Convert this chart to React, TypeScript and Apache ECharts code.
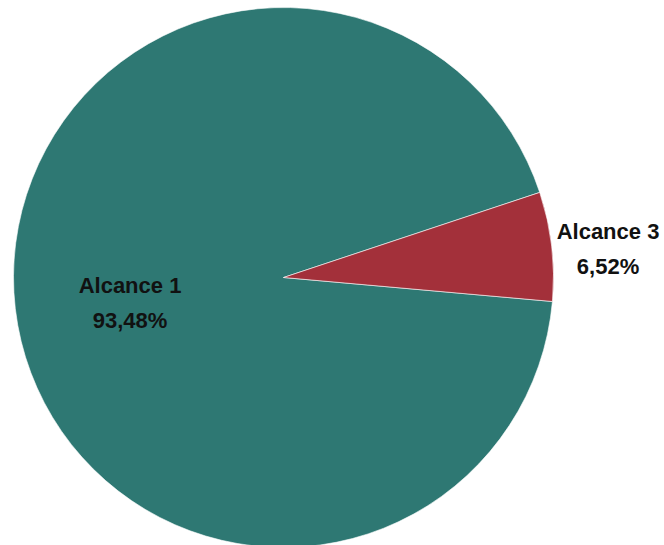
import React, { useEffect, useRef } from "react";
import * as echarts from "echarts";

const categories = ["Alcance 1", "Alcance 3"];
const values = [93.48, 6.52];
const colors = ["#2E7873", "#A3303A"];
const labelSpots = [
  [130, 303],
  [608, 249],
];

export default function App() {
  const ref = useRef<HTMLDivElement>(null);
  useEffect(() => {
    if (!ref.current) return;
    const chart = echarts.init(ref.current, null, { renderer: "svg" });
    chart.setOption({
      animation: false,
      backgroundColor: "#ffffff",
      series: [
        {
          type: "pie",
          center: [283.5, 277.5],
          radius: [0, 270],
          startAngle: -5.1,
          clockwise: true,
          silent: true,
          itemStyle: { borderColor: "#ffffff", borderWidth: 0.6 },
          label: {
            show: true,
            position: "inside",
            fontFamily: "'Liberation Sans', Arial, sans-serif",
            fontWeight: "bold",
            fontSize: 22,
            lineHeight: 35,
            color: "#111111",
            align: "center",
            formatter: (p: any) =>
              p.name + "\n" + Number(p.value).toFixed(2).replace(".", ",") + "%",
          },
          labelLine: { show: false },
          labelLayout: (params: any) => {
            const s = labelSpots[params.dataIndex];
            return { x: s[0], y: s[1], align: "center", verticalAlign: "middle" };
          },
          data: categories.map((c, i) => ({
            name: c,
            value: values[i],
            itemStyle: { color: colors[i] },
          })),
        },
      ],
    });
    return () => chart.dispose();
  }, []);
  return (
    <div
      ref={ref}
      style={{ position: "fixed", left: 0, top: 0, width: 664, height: 545 }}
    />
  );
}
